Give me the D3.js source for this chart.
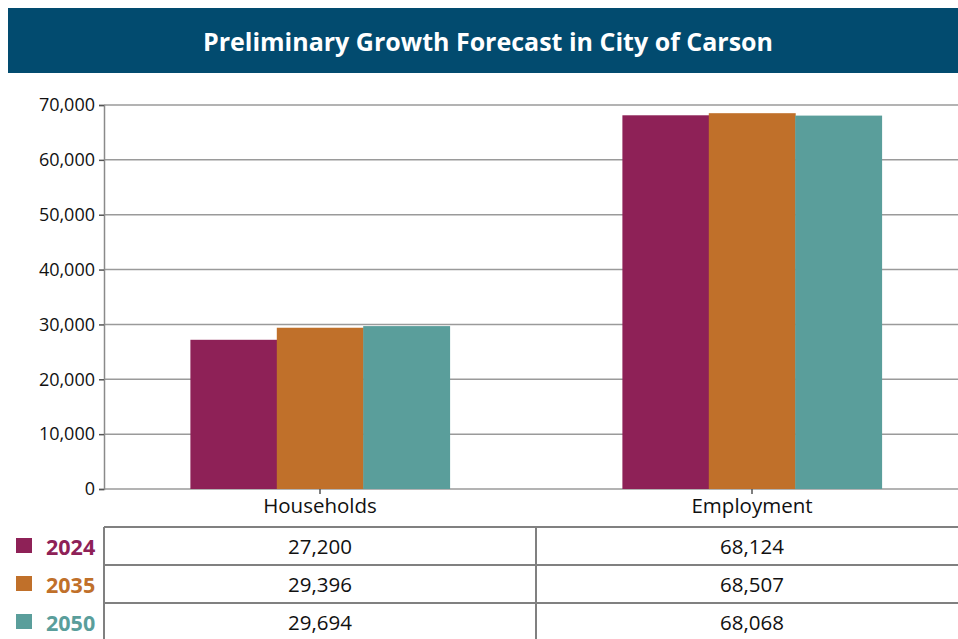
<!DOCTYPE html>
<html>
<head>
  <meta charset="utf-8">
  <title>Preliminary Growth Forecast in City of Carson</title>
  <script src="https://d3js.org/d3.v7.min.js"></script>
  <style>
    body { margin: 0; background: #fff; }
    svg { display: block; font-family: "Open Sans", "Noto Sans", sans-serif; }
  </style>
</head>
<body>
  <svg width="958" height="639"></svg>
  <script>
    // chart data
    var categories = ["Households", "Employment"];
    var years = ["2024", "2035", "2050"];
    var values2024 = [27200, 68124];
    var values2035 = [29396, 68507];
    var values2050 = [29694, 68068];
    var yTicks = [0, 10000, 20000, 30000, 40000, 50000, 60000, 70000];
    var colors = ["#8e2157", "#c0702a", "#5a9e9b"];
    var title = "Preliminary Growth Forecast in City of Carson";

    var series = [values2024, values2035, values2050];

    var svg = d3.select("svg"),
        margin = {top: 105, right: -10, bottom: 150, left: 104},
        width = +svg.attr("width") - margin.left - margin.right,
        height = +svg.attr("height") - margin.top - margin.bottom;

    // title bar
    svg.append("rect")
        .attr("x", 8).attr("y", 8)
        .attr("width", 950).attr("height", 65)
        .attr("fill", "#024b6f");
    svg.append("text")
        .attr("x", 488).attr("y", 41)
        .attr("text-anchor", "middle")
        .attr("dominant-baseline", "central")
        .attr("fill", "#fff")
        .attr("font-size", 25)
        .attr("font-weight", 700)
        .text(title);

    var x0 = d3.scaleBand()
        .domain(categories)
        .range([0, width]);

    var x1 = d3.scaleBand()
        .domain(years)
        .range([0, x0.bandwidth()])
        .paddingInner(0)
        .paddingOuter(1);

    var y = d3.scaleLinear()
        .domain([0, 70000])
        .range([height, 0]);

    var g = svg.append("g")
        .attr("transform", "translate(" + margin.left + "," + margin.top + ")");

    // gridlines
    g.append("g")
        .selectAll("line")
        .data(yTicks)
        .enter().append("line")
        .attr("x1", 0)
        .attr("x2", 958 - margin.left)
        .attr("y1", function(d) { return y(d); })
        .attr("y2", function(d) { return y(d); })
        .attr("stroke", "#9a9a9a")
        .attr("stroke-width", 1.5);

    // bars
    g.selectAll(".group")
        .data(categories)
        .enter().append("g")
        .attr("transform", function(d) { return "translate(" + x0(d) + ",0)"; })
        .selectAll("rect")
        .data(function(d, i) { return years.map(function(yr, j) { return {year: yr, value: series[j][i], k: j}; }); })
        .enter().append("rect")
        .attr("x", function(d) { return x1(d.year); })
        .attr("width", x1.bandwidth() + 0.5)
        .attr("y", function(d) { return y(d.value); })
        .attr("height", function(d) { return height - y(d.value); })
        .attr("fill", function(d) { return colors[d.k]; });

    // y axis
    var yAxis = g.append("g")
        .call(d3.axisLeft(y).tickValues(yTicks).tickSize(5).tickPadding(4).tickFormat(d3.format(",")));
    yAxis.select(".domain").attr("stroke", "#8a8a8a").attr("stroke-width", 1.5);
    yAxis.selectAll(".tick line").attr("stroke", "#555").attr("stroke-width", 1.5);
    yAxis.selectAll("text").attr("font-size", 18).attr("fill", "#111").attr("font-family", "Open Sans, sans-serif");

    // x axis
    var xAxis = g.append("g")
        .attr("transform", "translate(0," + height + ")")
        .call(d3.axisBottom(x0).tickSize(5).tickPadding(4));
    xAxis.select(".domain").remove();
    xAxis.selectAll(".tick line").attr("stroke", "#555").attr("stroke-width", 1.5);
    xAxis.selectAll("text").attr("font-size", 20.5).attr("fill", "#111").attr("font-family", "Open Sans, sans-serif");

    // data table
    var tableTop = 527, rowH = 38;
    var tbl = svg.append("g");
    years.forEach(function(yr, j) {
      var ty = tableTop + j * rowH;
      tbl.append("line")
          .attr("x1", margin.left).attr("x2", 958)
          .attr("y1", ty).attr("y2", ty)
          .attr("stroke", "#808080").attr("stroke-width", 2);
      tbl.append("rect")
          .attr("x", 16).attr("y", ty + 11)
          .attr("width", 16).attr("height", 15)
          .attr("fill", colors[j]);
      tbl.append("text")
          .attr("x", 46).attr("y", ty + rowH / 2)
          .attr("dominant-baseline", "central")
          .attr("font-size", 21.5).attr("font-weight", 700)
          .attr("fill", colors[j])
          .text(yr);
      categories.forEach(function(c, i) {
        tbl.append("text")
            .attr("x", margin.left + x0(c) + x0.bandwidth() / 2)
            .attr("y", ty + rowH / 2)
            .attr("text-anchor", "middle")
            .attr("dominant-baseline", "central")
            .attr("font-size", 20.5)
            .attr("fill", "#111")
            .text(d3.format(",")(series[j][i]));
      });
    });
    tbl.append("line")
        .attr("x1", margin.left).attr("x2", margin.left)
        .attr("y1", tableTop).attr("y2", 639)
        .attr("stroke", "#808080").attr("stroke-width", 2);
    tbl.append("line")
        .attr("x1", 536).attr("x2", 536)
        .attr("y1", tableTop).attr("y2", 639)
        .attr("stroke", "#808080").attr("stroke-width", 2);
  </script>
</body>
</html>
